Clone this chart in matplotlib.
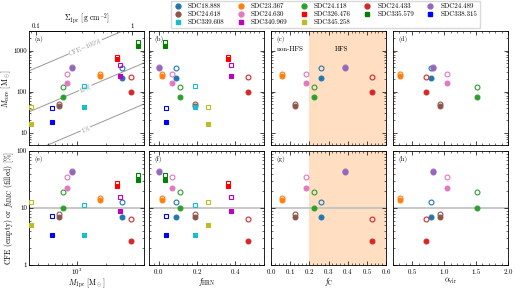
import numpy as np
import matplotlib
matplotlib.use("Agg")
import matplotlib.pyplot as plt
from matplotlib import ticker
from matplotlib.lines import Line2D

plt.rcParams.update({
    "font.family": "serif",
    "font.serif": ["cmr10", "DejaVu Serif"],
    "mathtext.fontset": "cm",
    "axes.formatter.use_mathtext": True,
    "font.size": 5,
    "axes.linewidth": 0.6,
    "xtick.direction": "in", "ytick.direction": "in",
    "xtick.top": True, "ytick.right": True,
    "xtick.minor.visible": True, "ytick.minor.visible": True,
    "xtick.major.size": 3, "ytick.major.size": 3,
    "xtick.minor.size": 1.5, "ytick.minor.size": 1.5,
    "xtick.major.width": 0.5, "ytick.major.width": 0.5,
    "xtick.minor.width": 0.4, "ytick.minor.width": 0.4,
    "xtick.major.pad": 1.2, "ytick.major.pad": 1.5,
    "xtick.labelsize": 5, "ytick.labelsize": 5,
})

# ---- data ----
names = ["SDC18.888", "SDC23.367", "SDC24.118", "SDC24.433", "SDC24.489",
         "SDC24.618", "SDC24.630", "SDC326.476", "SDC335.579", "SDC338.315",
         "SDC339.608", "SDC340.969", "SDC345.258"]
colors = ["C0", "C1", "C2", "C3", "C4", "C5", "C6",
          "red", "green", "blue", "C9", "m", "C8"]
markers = ["o"] * 7 + ["s"] * 6

M1pc = [2965, 1750, 728, 3646, 901, 662, 800, 2636, 4335, 561, 1197, 2807, 338]
Mcore_tot = [383, 262, 133, 232, 404, 50, 263, 705, 1620, 39, 138, 443, 43]     # empty
Mcore_max = [211, 245, 72, 97, 368, 44, 166, 617, 1300, 18.4, 42, 245, 16.5]    # filled
CFE = [12.9, 15, 19, 6.5, 45, 8.0, 35, 27, 38.6, 7.2, 11.5, 15.8, 13]           # empty
fMMC = [7.0, 14, 9.9, 2.6, 42, 6.9, 22, 24, 31, 3.3, 3.4, 8.9, 5.0]             # filled
fHRN = [0.092, 0.02, 0.114, 0.468, 0.0, 0.188, 0.072, 0.362, 0.032, 0.041, 0.188, 0.376, 0.26]
fC = [0.259, 0.059, 0.224, 0.529, 0.388, 0.124, 0.185] + [np.nan] * 6
alpha_vir = [0.80, 0.309, 1.515, 0.723, 0.826, 0.93, 1.05] + [np.nan] * 6

cfe_lines = [100, 10, 1]
cfe_labels = ["CFE=100%", "10%", "1%"]

# Sigma_1pc in g cm^-2 for mass inside r = 0.5 pc
msun_pc2 = 1.989e33 / (3.086e18) ** 2
sig_k = msun_pc2 / (np.pi * 0.25)

W, H = 520, 289
fig = plt.figure(figsize=(W / 100, H / 100), dpi=100)

lefts = [29, 149, 271, 393]
pw = 115
rows = [(31, 145), (151, 265)]
axes = []
for r, (t, b) in enumerate(rows):
    row = []
    for l in lefts:
        ax = fig.add_axes([l / W, 1 - b / H, pw / W, (b - t) / H])
        row.append(ax)
    axes.append(row)

xs = [M1pc, fHRN, fC, alpha_vir]
xlims = [(320, 5000), (-0.05, 0.55), (0, 0.6), (0.2, 2.0)]
tops = [(Mcore_tot, Mcore_max), (CFE, fMMC)]
ylims = [(5, 3000), (1, 100)]
plabels = "abcdefgh"
ms = 3.5

for r in range(2):
    for c in range(4):
        ax = axes[r][c]
        x = xs[c]
        yo, yf = tops[r]
        for i in range(len(names)):
            if np.isnan(x[i]):
                continue
            ax.plot(x[i], yo[i], marker=markers[i], ms=ms, mfc="none", mec=colors[i],
                    mew=0.8, ls="none", zorder=3)
            ax.plot(x[i], yf[i], marker=markers[i], ms=ms, mfc=colors[i], mec=colors[i],
                    mew=0.8, ls="none", zorder=3)
        ax.set_yscale("log")
        ax.set_ylim(*ylims[r])
        ax.yaxis.set_major_formatter(ticker.FuncFormatter(lambda v, _: f"{v:g}"))
        ax.yaxis.set_minor_formatter(ticker.NullFormatter())
        if c == 0:
            ax.set_xscale("log")
            ax.xaxis.set_minor_formatter(ticker.NullFormatter())
        ax.set_xlim(*xlims[c])
        if c == 1:
            ax.xaxis.set_major_locator(ticker.MultipleLocator(0.2))
            ax.xaxis.set_minor_locator(ticker.MultipleLocator(0.025))
        if c == 2:
            ax.xaxis.set_major_locator(ticker.MultipleLocator(0.1))
            ax.xaxis.set_minor_locator(ticker.MultipleLocator(0.02))
            ax.axvspan(0.2, 0.6, color="C1", alpha=0.25, lw=0, zorder=0)
        if c == 3:
            ax.xaxis.set_major_locator(ticker.MultipleLocator(0.5))
            ax.xaxis.set_minor_locator(ticker.MultipleLocator(0.1))
        if r == 1:
            ax.axhline(10, color="0.75", lw=1.2, zorder=1)
        if c > 0:
            ax.tick_params(labelleft=False)
        if r == 0:
            ax.tick_params(labelbottom=False)
        ax.text(0.05, 0.96, f"({plabels[r * 4 + c]})", transform=ax.transAxes,
                ha="left", va="top", fontsize=5)

# CFE reference lines in (a)
ax = axes[0][0]
mm = np.array(xlims[0])
for f in cfe_lines:
    ax.plot(mm, mm * f / 100, color="0.6", lw=0.7, zorder=1)
p0 = ax.transData.transform((400, 400))
p1 = ax.transData.transform((4000, 4000))
ang = np.degrees(np.arctan2(p1[1] - p0[1], p1[0] - p0[0]))
for f, lab in zip(cfe_lines, cfe_labels):
    ax.text(1230, 1230 * f / 100, lab, rotation=ang, rotation_mode="anchor",
            ha="center", va="center", color="0.6", fontsize=5, zorder=2,
            bbox=dict(boxstyle="square,pad=0.05", fc="white", ec="none"))
ax.tick_params(which="both", top=False)
sec = ax.secondary_xaxis("top", functions=(lambda m: m * sig_k, lambda s: s / sig_k))
sec.set_xticks([0.1, 1])
sec.xaxis.set_major_formatter(ticker.FuncFormatter(lambda v, _: f"{v:g}"))
sec.xaxis.set_minor_formatter(ticker.NullFormatter())
sec.tick_params(which="both", direction="in")
sec.set_xlabel(r"$\Sigma_{\rm 1pc}$ [g cm$^{-2}$]", fontsize=5.5, labelpad=1.5)
ax.set_ylabel(r"$M_{\rm core}$ [M$_\odot$]", fontsize=5.5, labelpad=0.5)

axes[0][2].text(0.098, 0.84, "non-HFS", transform=axes[0][2].get_xaxis_transform(),
                ha="center", va="center", fontsize=5)
axes[0][2].text(0.366, 0.84, "HFS", transform=axes[0][2].get_xaxis_transform(),
                ha="center", va="center", fontsize=5)

axes[1][0].set_ylabel(r"CFE (empty) or $f_{\rm MMC}$ (filled) [%]", fontsize=5.5, labelpad=0.5)
for c, lab in enumerate([r"$M_{\rm 1pc}$ [M$_\odot$]", r"$f_{\rm HRN}$",
                         r"$f_{\rm C}$", r"$\alpha_{\rm vir}$"]):
    axes[1][c].set_xlabel(lab, fontsize=5.5, labelpad=0)

# legend, reordered so column-major fill reads row by row
handles = [Line2D([], [], marker=markers[i], ms=ms, color=colors[i], ls="none")
           for i in range(len(names))]
order = [0, 5, 10, 1, 6, 11, 2, 7, 12, 3, 8, 4, 9]
fig.legend([handles[i] for i in order], [names[i] for i in order], ncol=5,
           loc="upper left", bbox_to_anchor=(171 / W, 1 - 1 / H), fontsize=5,
           frameon=True, fancybox=False, edgecolor="0.85", framealpha=1,
           handletextpad=0.9, columnspacing=1.7, borderpad=0.35, labelspacing=0.3,
           handlelength=1.2, borderaxespad=0)

fig.savefig("out.png", dpi=100)
